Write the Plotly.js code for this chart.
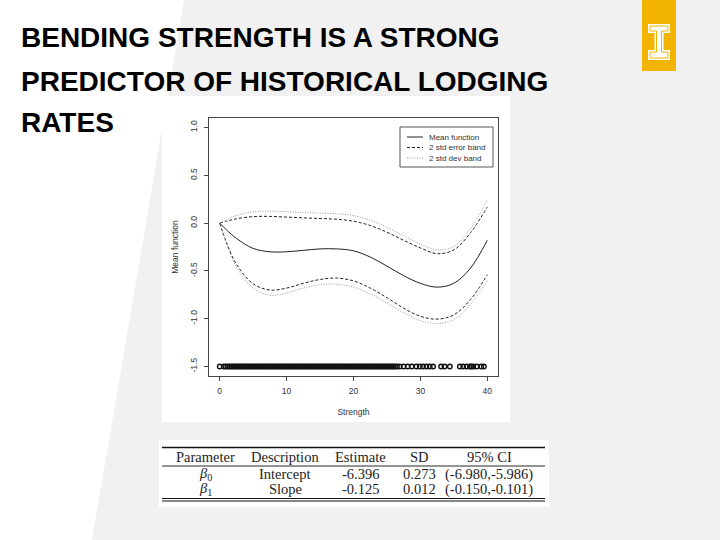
<!DOCTYPE html>
<html>
<head>
<meta charset="utf-8">
<script src="https://cdn.plot.ly/plotly-3.0.1.min.js"></script>
<style>html,body{margin:0;padding:0;background:#fff;}#chart{width:720px;height:540px;}</style>
</head>
<body>
<div id="chart"></div>
<script>
// ---------- data ----------
var strength = [0, 1, 2.5, 5, 7.5, 10, 12.5, 15, 17.5, 20, 22.5, 25, 27.5, 30, 32.5, 35, 37.5, 40];
var meanFunction = [0, -0.07, -0.16, -0.265, -0.30, -0.30, -0.285, -0.27, -0.27, -0.29, -0.355, -0.45, -0.55, -0.63, -0.67, -0.63, -0.47, -0.18];
var errUpper = [0, 0.02, 0.045, 0.068, 0.07, 0.063, 0.055, 0.048, 0.04, 0.02, -0.025, -0.095, -0.18, -0.26, -0.32, -0.28, -0.10, 0.17];
var errLower = [0, -0.2, -0.43, -0.635, -0.70, -0.68, -0.63, -0.59, -0.575, -0.605, -0.68, -0.78, -0.89, -0.975, -1.005, -0.96, -0.80, -0.54];
var devUpper = [0, 0.04, 0.08, 0.118, 0.125, 0.12, 0.11, 0.105, 0.098, 0.078, 0.03, -0.045, -0.13, -0.22, -0.28, -0.245, -0.055, 0.24];
var devLower = [0, -0.21, -0.46, -0.68, -0.755, -0.73, -0.68, -0.645, -0.64, -0.67, -0.74, -0.835, -0.94, -1.02, -1.05, -1.01, -0.85, -0.60];
var rugStrength = [0, 0.6, 0.9, 1.2,
  1.5, 1.75, 2, 2.25, 2.5, 2.75, 3, 3.25, 3.5, 3.75, 4, 4.25, 4.5, 4.75, 5, 5.25, 5.5, 5.75,
  6, 6.25, 6.5, 6.75, 7, 7.25, 7.5, 7.75, 8, 8.25, 8.5, 8.75, 9, 9.25, 9.5, 9.75, 10, 10.25,
  10.5, 10.75, 11, 11.25, 11.5, 11.75, 12, 12.25, 12.5, 12.75, 13, 13.25, 13.5, 13.75, 14,
  14.25, 14.5, 14.75, 15, 15.25, 15.5, 15.75, 16, 16.25, 16.5, 16.75, 17, 17.25, 17.5, 17.75,
  18, 18.25, 18.5, 18.75, 19, 19.25, 19.5, 19.75, 20, 20.25, 20.5, 20.75, 21, 21.25, 21.5,
  21.75, 22, 22.25, 22.5, 22.75, 23, 23.25, 23.5, 23.75, 24, 24.25, 24.5, 24.75, 25, 25.25,
  25.5, 25.75, 26, 26.25,
  26.5, 26.9, 27.5, 28.1, 28.7, 29.4, 29.9, 30.4, 30.9, 31.4, 31.9, 33.1, 33.6, 34.4,
  35.9, 36.4, 36.9, 37.4, 37.6, 37.9, 38.4, 39.1, 39.5];
var rugLevel = -1.5;
var legendNames = ['Mean function', '2 std error band', '2 std dev band'];
var xTicks = [0, 10, 20, 30, 40];
var yTicks = [-1.5, -1.0, -0.5, 0.0, 0.5, 1.0];
var yTickText = ['-1.5', '-1.0', '-0.5', '0.0', '0.5', '1.0'];
var titleLines = ['BENDING STRENGTH IS A STRONG', 'PREDICTOR OF HISTORICAL LODGING', 'RATES'];
var tableHeader = ['Parameter', 'Description', 'Estimate', 'SD', '95% CI'];
var tableRow1 = ['<i>β</i><sub>0</sub>', 'Intercept', '-6.396', '0.273', '(-6.980,-5.986)'];
var tableRow2 = ['<i>β</i><sub>1</sub>', 'Slope', '-0.125', '0.012', '(-0.150,-0.101)'];

// ---------- layout helpers (pixel -> paper) ----------
var L = 209, R = 498, T = 118, B = 376;
function px(x) { return (x - L) / (R - L); }
function py(y) { return (B - y) / (B - T); }
function path(pts) {
  return 'M' + pts.map(function (p) { return px(p[0]) + ',' + py(p[1]); }).join('L') + 'Z';
}

var styleMean = { color: '#222', width: 1 };
var styleErr = { color: '#222', width: 1, dash: '3px,2px' };
var styleDev = { color: '#9a9a9a', width: 1, dash: '1px,1.5px' };
function spl(s) { var o = Object.assign({}, s); o.shape = 'spline'; return o; }

var traces = [
  { x: strength, y: meanFunction, mode: 'lines', name: legendNames[0], line: spl(styleMean) },
  { x: strength, y: errUpper, mode: 'lines', name: legendNames[1], line: spl(styleErr) },
  { x: strength, y: devUpper, mode: 'lines', name: legendNames[2], line: spl(styleDev) },
  { x: strength, y: errLower, mode: 'lines', name: legendNames[1], line: spl(styleErr) },
  { x: strength, y: devLower, mode: 'lines', name: legendNames[2], line: spl(styleDev) },
  { x: rugStrength, y: rugStrength.map(function () { return rugLevel; }), mode: 'markers', name: 'Strength',
    marker: { symbol: 'circle-open', size: 4.5, color: '#111', line: { width: 1.4, color: '#111' } } }
];

var shapes = [
  { type: 'path', xref: 'paper', yref: 'paper', layer: 'below', path: path([[184, 0], [720, 0], [720, 540], [92, 540]]), fillcolor: '#f1f1f1', line: { width: 0 } },
  { type: 'rect', xref: 'paper', yref: 'paper', layer: 'below', x0: px(162), x1: px(510), y0: py(422), y1: py(96), fillcolor: '#ffffff', line: { width: 0 } },
  { type: 'rect', xref: 'paper', yref: 'paper', layer: 'below', x0: px(159), x1: px(549), y0: py(507), y1: py(440), fillcolor: '#ffffff', line: { width: 0 } },
  { type: 'line', xref: 'paper', yref: 'paper', x0: px(162), x1: px(545), y0: py(447.5), y1: py(447.5), line: { color: '#111', width: 1.3 } },
  { type: 'line', xref: 'paper', yref: 'paper', x0: px(162), x1: px(545), y0: py(466), y1: py(466), line: { color: '#111', width: 0.9 } },
  { type: 'line', xref: 'paper', yref: 'paper', x0: px(162), x1: px(545), y0: py(498.5), y1: py(498.5), line: { color: '#111', width: 1 } },
  { type: 'line', xref: 'paper', yref: 'paper', x0: px(162), x1: px(545), y0: py(501), y1: py(501), line: { color: '#111', width: 1 } },
  { type: 'rect', xref: 'paper', yref: 'paper', x0: px(642), x1: px(676), y0: py(71), y1: py(0), fillcolor: '#f2b400', line: { width: 0 } },
  { type: 'path', xref: 'paper', yref: 'paper', path: path([[648, 24], [670, 24], [670, 33], [663.5, 33], [663.5, 50], [670, 50], [670, 60], [648, 60], [648, 50], [654.5, 50], [654.5, 33], [648, 33]]), fillcolor: '#ffffff', line: { width: 0 } },
  { type: 'path', xref: 'paper', yref: 'paper', path: path([[650, 26], [668, 26], [668, 31], [661.5, 31], [661.5, 52], [668, 52], [668, 58], [650, 58], [650, 52], [656.5, 52], [656.5, 31], [650, 31]]), fillcolor: 'rgba(0,0,0,0)', line: { color: '#f2b400', width: 1 } },
  // legend box
  { type: 'rect', xref: 'paper', yref: 'paper', x0: px(400), x1: px(493), y0: py(167), y1: py(127), fillcolor: '#ffffff', line: { color: '#555', width: 1 } }
];

var annotations = [];
var legendStyles = [styleMean, styleErr, styleDev];
var legendY = [137, 147.5, 158];
legendNames.forEach(function (n, i) {
  shapes.push({ type: 'line', xref: 'paper', yref: 'paper', x0: px(407), x1: px(423), y0: py(legendY[i]), y1: py(legendY[i]), line: legendStyles[i] });
  annotations.push({ xref: 'paper', yref: 'paper', x: px(427), y: py(legendY[i]), xanchor: 'left', yanchor: 'middle', showarrow: false,
    text: n, font: { family: 'Liberation Sans, Arial, sans-serif', size: 8, color: '#333' } });
});

var titleY = [38, 81, 122];
titleLines.forEach(function (t, i) {
  annotations.push({ xref: 'paper', yref: 'paper', x: px(19), y: py(titleY[i]), xanchor: 'left', yanchor: 'middle', showarrow: false,
    text: '<b>' + t + '</b>', font: { family: 'Liberation Sans, Arial, sans-serif', size: 28, color: '#000' } });
});
var colX = [205, 285, 360, 419, 489];
var rowY = [457, 474, 489];
[tableHeader, tableRow1, tableRow2].forEach(function (row, r) {
  row.forEach(function (cell, c) {
    annotations.push({ xref: 'paper', yref: 'paper', x: px(colX[c]), y: py(rowY[r]), xanchor: 'center', yanchor: 'middle', showarrow: false,
      text: cell, font: { family: 'Liberation Serif, Times New Roman, serif', size: 14.5, color: '#222' } });
  });
});

var layout = {
  width: 720, height: 540,
  margin: { l: L, r: 720 - R, t: T, b: 540 - B, pad: 0 },
  paper_bgcolor: '#ffffff', plot_bgcolor: 'rgba(0,0,0,0)',
  font: { family: 'Liberation Sans, Arial, sans-serif', size: 8, color: '#333' },
  showlegend: false,
  xaxis: { range: [-1.6, 41.6], tickvals: xTicks, ticks: 'outside', ticklen: 4, tickcolor: '#444', tickwidth: 1,
    showline: true, mirror: true, linecolor: '#444', linewidth: 1, showgrid: false, zeroline: false, ticklabelstandoff: 3,
    tickfont: { size: 8.5, color: '#333' }, title: { text: 'Strength', font: { size: 8.5, color: '#333' }, standoff: 13 } },
  yaxis: { range: [-1.6, 1.1], tickvals: yTicks, ticktext: yTickText, tickangle: -90, ticks: 'outside', ticklen: 4, tickcolor: '#444', tickwidth: 1,
    showline: true, mirror: true, linecolor: '#444', linewidth: 1, showgrid: false, zeroline: false, ticklabelstandoff: 4,
    tickfont: { size: 8.5, color: '#333' }, title: { text: 'Mean function', font: { size: 8.5, color: '#333' }, standoff: 8 } },
  shapes: shapes,
  annotations: annotations
};

Plotly.newPlot('chart', traces, layout, { displayModeBar: false, staticPlot: true });
</script>
</body>
</html>
